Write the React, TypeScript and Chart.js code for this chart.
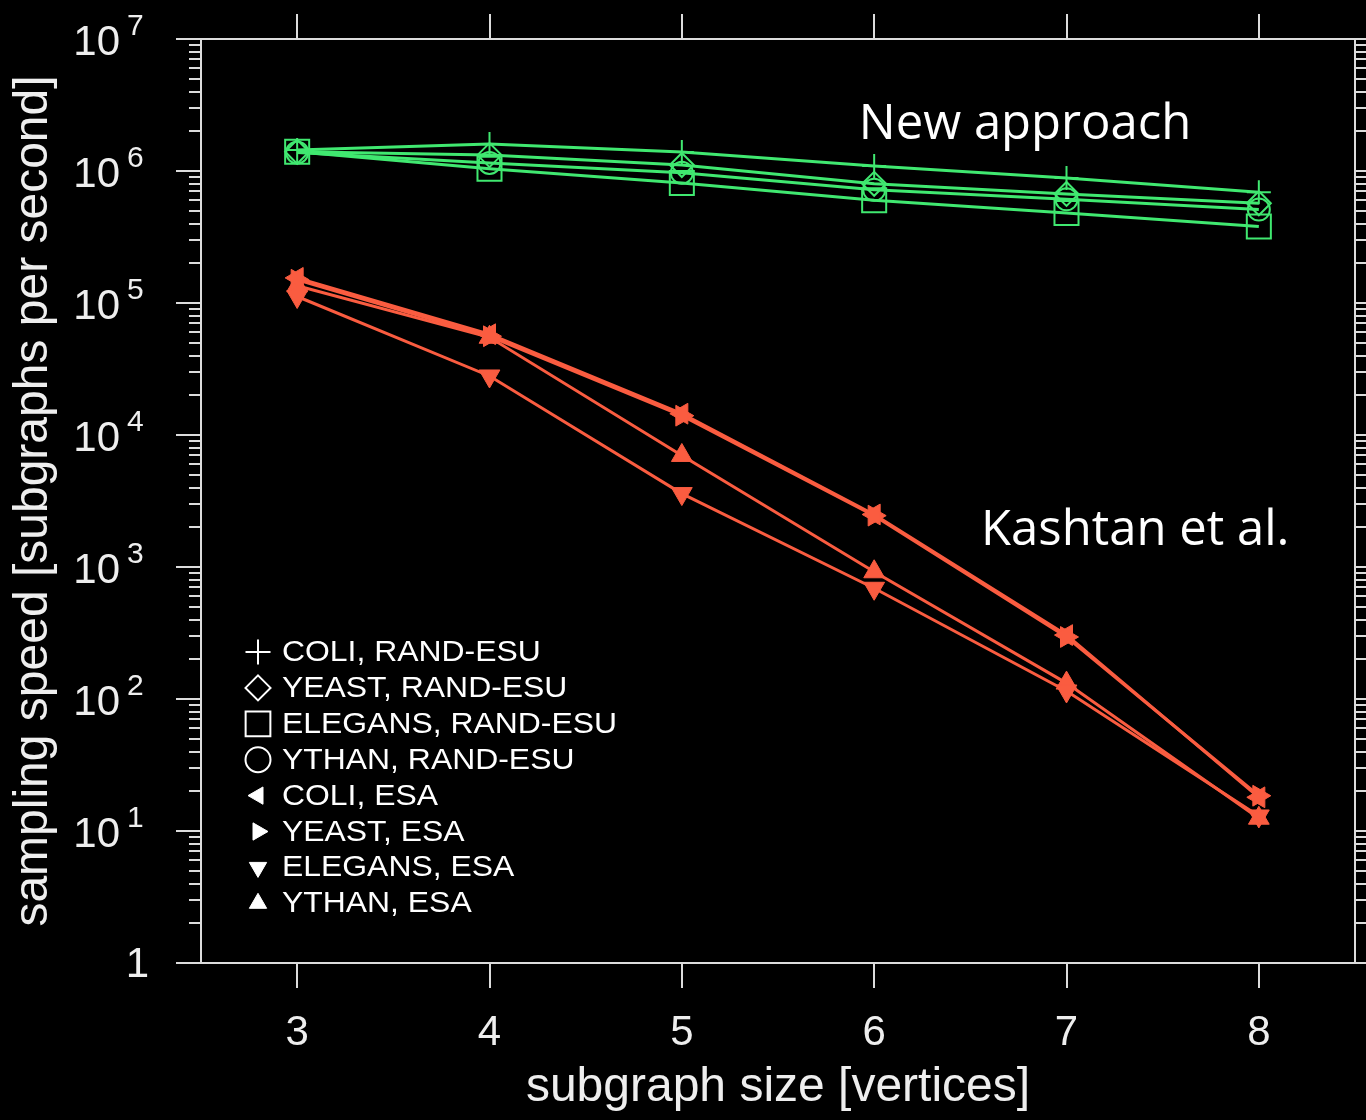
import React, { useEffect, useRef } from 'react';
import { Chart, registerables } from 'chart.js';

Chart.register(...registerables);

// ---------- data ----------
const subgraphSizes = [3, 4, 5, 6, 7, 8];

const coliRandEsu = [1.44e6, 1.6e6, 1.39e6, 1.09e6, 8.85e5, 6.9e5];
const yeastRandEsu = [1.4e6, 1.32e6, 1.11e6, 8.0e5, 6.7e5, 5.7e5];
const elegansRandEsu = [1.4e6, 1.04e6, 8.1e5, 6.0e5, 4.8e5, 3.8e5];
const ythanRandEsu = [1.38e6, 1.15e6, 9.7e5, 7.2e5, 6.1e5, 5.1e5];

const coliEsa = [1.55e5, 5.8e4, 1.45e4, 2.5e3, 3.05e2, 18];
const yeastEsa = [1.5e5, 5.6e4, 1.4e4, 2.45e3, 2.95e2, 18.5];
const elegansEsa = [1.12e5, 2.8e4, 3.6e3, 6.9e2, 1.15e2, 13];
const ythanEsa = [1.35e5, 5.5e4, 7.0e3, 9.2e2, 1.32e2, 12.5];

const seriesLabels = [
  'COLI, RAND-ESU',
  'YEAST, RAND-ESU',
  'ELEGANS, RAND-ESU',
  'YTHAN, RAND-ESU',
  'COLI, ESA',
  'YEAST, ESA',
  'ELEGANS, ESA',
  'YTHAN, ESA',
];

const xTickValues = [3, 4, 5, 6, 7, 8];
const yTickExponents = [0, 1, 2, 3, 4, 5, 6, 7];

const annotationTexts = ['New approach', 'Kashtan et al.'];
const annotationX = [5.92, 6.556];
const annotationY = [1.75e6, 1468];

// ---------- styles ----------
const GREEN = 'rgb(64, 232, 112)';
const RED = 'rgb(250, 92, 64)';
const AXIS = '#dcdcdc';
const TEXT = '#eeeeee';
const SANS = '"Liberation Sans", Arial, Helvetica, sans-serif';

type MarkerSpec = { style: string; rotation: number; radius: number; filled: boolean };
const markerSpecs: MarkerSpec[] = [
  { style: 'cross', rotation: 0, radius: 12, filled: false },
  { style: 'rectRot', rotation: 0, radius: 12, filled: false },
  { style: 'rect', rotation: 0, radius: 17, filled: false },
  { style: 'circle', rotation: 0, radius: 11, filled: false },
  { style: 'triangle', rotation: -90, radius: 12, filled: true },
  { style: 'triangle', rotation: 90, radius: 12, filled: true },
  { style: 'triangle', rotation: 180, radius: 12, filled: true },
  { style: 'triangle', rotation: 0, radius: 12, filled: true },
];

const seriesValues = [
  coliRandEsu, yeastRandEsu, elegansRandEsu, ythanRandEsu,
  coliEsa, yeastEsa, elegansEsa, ythanEsa,
];

function drawMarker(ctx: CanvasRenderingContext2D, spec: MarkerSpec, x: number, y: number, r: number) {
  ctx.beginPath();
  if (spec.style === 'cross') {
    ctx.moveTo(x - r, y); ctx.lineTo(x + r, y);
    ctx.moveTo(x, y - r); ctx.lineTo(x, y + r);
    ctx.stroke();
    return;
  }
  if (spec.style === 'rectRot') {
    ctx.moveTo(x, y - r); ctx.lineTo(x + r, y); ctx.lineTo(x, y + r); ctx.lineTo(x - r, y); ctx.closePath();
  } else if (spec.style === 'rect') {
    const s = r * Math.SQRT1_2;
    ctx.rect(x - s, y - s, 2 * s, 2 * s);
  } else if (spec.style === 'circle') {
    ctx.arc(x, y, r, 0, Math.PI * 2);
  } else if (spec.style === 'triangle') {
    let rad = (spec.rotation * Math.PI) / 180;
    for (let i = 0; i < 3; i++) {
      const px = x + Math.sin(rad) * r;
      const py = y - Math.cos(rad) * r;
      if (i === 0) ctx.moveTo(px, py); else ctx.lineTo(px, py);
      rad += (2 * Math.PI) / 3;
    }
    ctx.closePath();
  }
  if (spec.filled) ctx.fill();
  ctx.stroke();
}

function stretchedText(ctx: CanvasRenderingContext2D, text: string, x: number, y: number, sx: number) {
  ctx.save();
  ctx.translate(x, y);
  ctx.scale(sx, 1);
  ctx.fillText(text, 0, 0);
  ctx.restore();
}

const decorPlugin = {
  id: 'decor',
  beforeDraw(chart: any) {
    const { ctx, width, height } = chart;
    ctx.save();
    ctx.fillStyle = '#000';
    ctx.fillRect(0, 0, width, height);
    ctx.restore();
  },
  beforeDatasetsDraw(chart: any) {
    const { ctx, chartArea: a, scales } = chart;
    const xs = scales.x;
    const ys = scales.y;
    ctx.save();
    ctx.strokeStyle = AXIS;
    ctx.lineWidth = 2;
    ctx.strokeRect(a.left, a.top, a.right - a.left, a.bottom - a.top);
    ctx.beginPath();
    // y ticks (left and right, outward)
    yTickExponents.forEach((e) => {
      const py = Math.round(ys.getPixelForValue(Math.pow(10, e)));
      ctx.moveTo(a.left - 25, py); ctx.lineTo(a.left, py);
      ctx.moveTo(a.right, py); ctx.lineTo(a.right + 25, py);
      if (e < yTickExponents[yTickExponents.length - 1]) {
        for (let m = 2; m <= 9; m++) {
          const pm = Math.round(ys.getPixelForValue(m * Math.pow(10, e)));
          ctx.moveTo(a.left - 12, pm); ctx.lineTo(a.left, pm);
          ctx.moveTo(a.right, pm); ctx.lineTo(a.right + 12, pm);
        }
      }
    });
    // x ticks (bottom and top, outward)
    xTickValues.forEach((v) => {
      const px = Math.round(xs.getPixelForValue(v));
      ctx.moveTo(px, a.bottom); ctx.lineTo(px, a.bottom + 25);
      ctx.moveTo(px, a.top); ctx.lineTo(px, a.top - 25);
    });
    ctx.stroke();

    // tick labels
    ctx.fillStyle = TEXT;
    ctx.textBaseline = 'middle';
    ctx.textAlign = 'center';
    ctx.font = `42px ${SANS}`;
    xTickValues.forEach((v) => {
      ctx.fillText(String(v), xs.getPixelForValue(v), a.bottom + 70);
    });
    yTickExponents.forEach((e) => {
      const py = ys.getPixelForValue(Math.pow(10, e));
      if (e === 0) {
        ctx.font = `42px ${SANS}`;
        ctx.textAlign = 'right';
        ctx.textBaseline = 'middle';
        ctx.fillText('1', a.left - 52, py + 2);
      } else {
        ctx.font = `42px ${SANS}`;
        ctx.textAlign = 'right';
        ctx.textBaseline = 'middle';
        ctx.fillText('10', a.left - 81, py + 4);
        ctx.font = `30px ${SANS}`;
        ctx.textAlign = 'left';
        ctx.textBaseline = 'alphabetic';
        ctx.fillText(String(e), a.left - 74, py - 4);
      }
    });
    ctx.restore();
  },
  afterDatasetsDraw(chart: any) {
    const { ctx, chartArea: a, scales } = chart;
    ctx.save();
    // legend
    const rowH = 35.9;
    const y0 = a.bottom - 311;
    const mx = a.left + 57;
    ctx.strokeStyle = '#ffffff';
    ctx.fillStyle = '#ffffff';
    ctx.lineWidth = 2;
    seriesLabels.forEach((label, i) => {
      const spec = markerSpecs[i];
      const yy = y0 + i * rowH;
      const r = spec.style === 'triangle' ? 10 : spec.style === 'rect' ? 17.5 : 12.5;
      ctx.lineWidth = spec.filled ? 1 : 2;
      drawMarker(ctx, spec, mx, yy, r);
      ctx.font = `29px ${SANS}`;
      ctx.textAlign = 'left';
      ctx.textBaseline = 'middle';
      stretchedText(ctx, label, a.left + 81, yy + 1, 1.1);
    });
    // annotations
    ctx.fillStyle = '#ffffff';
    ctx.font = `49px "Open Sans", "Noto Sans", sans-serif`;
    ctx.textAlign = 'left';
    ctx.textBaseline = 'alphabetic';
    annotationTexts.forEach((t, i) => {
      ctx.fillText(t, scales.x.getPixelForValue(annotationX[i]), scales.y.getPixelForValue(annotationY[i]));
    });
    ctx.restore();
  },
};

export default function App() {
  const canvasRef = useRef<HTMLCanvasElement | null>(null);

  useEffect(() => {
    document.body.style.margin = '0';
    document.body.style.background = '#000';
    const canvas = canvasRef.current;
    if (!canvas) return;

    const datasets = seriesLabels.map((label, i) => {
      const spec = markerSpecs[i];
      const color = i < 4 ? GREEN : RED;
      return {
        label,
        data: subgraphSizes.map((s, j) => ({ x: s, y: seriesValues[i][j] })),
        borderColor: color,
        borderWidth: 3,
        pointStyle: spec.style,
        rotation: spec.rotation,
        pointRotation: spec.rotation,
        pointRadius: spec.radius,
        pointHoverRadius: spec.radius,
        pointBorderColor: color,
        pointBackgroundColor: spec.filled ? color : 'rgba(0,0,0,0)',
        pointBorderWidth: spec.filled ? 1 : 2,
        fill: false,
        tension: 0,
      };
    });

    const chart = new Chart(canvas, {
      type: 'line',
      data: { datasets },
      options: {
        animation: false,
        responsive: false,
        devicePixelRatio: 1,
        layout: { autoPadding: false, padding: { top: 39, right: 11, left: 0, bottom: 0 } },
        plugins: { legend: { display: false }, tooltip: { enabled: false } },
        events: [],
        scales: {
          x: {
            type: 'linear',
            min: 2.5,
            max: 8.5,
            grid: { display: false },
            border: { display: false },
            ticks: { display: false, stepSize: 1 },
            title: {
              display: true,
              text: 'subgraph size [vertices]',
              color: TEXT,
              font: { family: SANS, size: 48 },
              padding: { top: 0, bottom: 3 },
            },
            afterFit: (s: any) => { s.height = 157; },
          },
          y: {
            type: 'logarithmic',
            min: 1,
            max: 1e7,
            grid: { display: false },
            border: { display: false },
            ticks: { display: false },
            title: {
              display: true,
              text: 'sampling speed [subgraphs per second]',
              color: TEXT,
              font: { family: SANS, size: 48 },
              padding: { top: 5, bottom: 0 },
            },
            afterFit: (s: any) => { s.width = 201; },
          },
        },
      } as any,
      plugins: [decorPlugin],
    });

    return () => chart.destroy();
  }, []);

  return (
    <div style={{ width: 1366, height: 1120, background: '#000' }}>
      <canvas ref={canvasRef} width={1366} height={1120} style={{ display: 'block' }} />
    </div>
  );
}
